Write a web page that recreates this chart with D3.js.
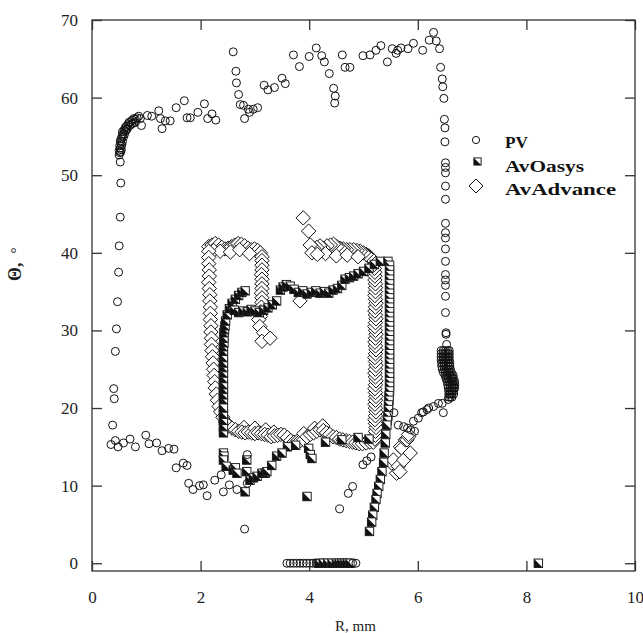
<!DOCTYPE html>
<html>
<head>
<meta charset="utf-8">
<script src="https://cdn.jsdelivr.net/npm/d3@7"></script>
<style>
  body { margin: 0; background: #fff; }
  svg text { font-family: "Liberation Serif", "Times New Roman", Times, serif; }
</style>
</head>
<body>
<div id="root"></div>
<script>
// R (mm), Theta (deg)
const pvPoints = [
  [0.52,51.7],[0.53,49.0],[0.52,44.6],[0.50,40.9],[0.49,37.5],[0.47,33.7],[0.45,30.2],[0.43,27.3],
  [0.40,22.5],[0.41,21.2],[0.38,17.8],[0.35,15.3],[0.43,15.8],[0.48,15.0],[0.58,15.5],[0.70,16.0],
  [0.80,15.0],[0.99,16.5],[1.05,15.4],[1.19,15.5],[1.29,14.5],[1.41,14.8],[1.51,14.7],[1.55,12.3],
  [1.68,12.9],[1.75,12.6],[1.78,10.3],[1.86,9.5],[1.98,10.0],[2.05,10.1],[2.12,8.7],[2.26,10.7],
  [2.38,11.4],[2.42,9.2],[2.53,10.1],[2.67,9.5],[2.86,14.0],[2.81,4.4],[2.86,10.3],
  [0.50,52.6],[0.51,52.9],[0.50,53.2],[0.52,53.5],[0.51,53.8],[0.53,54.1],[0.52,54.4],[0.54,54.7],
  [0.55,55.0],[0.57,55.3],[0.56,55.6],[0.59,55.8],[0.61,56.1],[0.63,56.3],[0.62,55.7],[0.66,56.5],
  [0.68,56.8],[0.65,56.0],[0.71,56.9],[0.74,57.1],[0.70,56.4],[0.77,57.3],[0.80,57.2],[0.83,57.4],
  [0.76,56.7],[0.86,57.6],[0.89,57.3],[0.58,54.9],[0.53,53.0],[0.55,53.9],[0.54,53.3],[0.56,54.3],
  [0.60,55.3],[0.64,55.9],[0.73,56.6],[0.80,56.8],
  [0.91,56.4],[1.02,57.7],[1.10,57.6],[1.23,58.3],[1.26,57.3],[1.29,56.0],[1.35,57.0],[1.44,57.0],
  [1.55,58.7],[1.70,59.6],[1.75,57.4],[1.81,57.4],[1.95,58.1],[2.07,59.2],[2.13,57.3],[2.21,57.9],
  [2.28,57.1],[2.60,65.9],[2.65,63.4],[2.66,61.9],[2.70,60.4],[2.73,59.1],[2.79,59.0],[2.81,57.3],
  [2.88,58.5],[2.90,58.1],[2.97,58.5],[3.05,58.7],[3.17,61.6],[3.24,61.0],[3.36,61.3],[3.50,62.5],
  [3.56,61.8],[3.71,65.5],[3.82,64.0],[4.00,65.3],[4.13,66.4],[4.23,65.4],[4.28,64.6],[4.37,63.1],
  [4.45,61.2],[4.48,60.2],[4.47,59.3],[4.61,65.5],[4.66,63.9],[4.75,63.9],[4.99,65.4],[5.12,65.5],
  [5.23,66.1],[5.32,66.7],[5.44,64.6],[5.53,66.3],[5.60,65.7],[5.63,66.1],[5.69,66.4],[5.82,66.3],
  [5.92,67.0],[6.09,66.1],[6.21,67.4],[6.29,68.4],[6.34,67.3],[6.40,66.3],
  [6.42,63.9],[6.45,62.4],[6.46,61.4],[6.48,59.9],[6.49,57.2],[6.50,56.1],[6.50,54.3],[6.51,51.6],
  [6.51,51.0],[6.51,50.3],[6.51,48.6],[6.51,46.9],[6.51,43.8],[6.51,42.6],[6.51,41.9],[6.51,40.5],
  [6.51,38.9],[6.51,37.2],[6.51,36.5],[6.51,35.8],[6.51,34.4],[6.51,32.3],[6.52,29.7],[6.52,29.5],
  [6.53,28.2],
  // dense blob near R = 6.5 mm
  [6.43,27.4],[6.47,27.4],[6.51,27.4],[6.55,27.4],[6.58,27.4],
  [6.43,27.0],[6.47,27.0],[6.51,27.0],[6.55,27.0],[6.58,27.0],
  [6.43,26.6],[6.47,26.6],[6.51,26.6],[6.55,26.6],[6.58,26.6],
  [6.43,26.2],[6.47,26.2],[6.51,26.2],[6.55,26.2],[6.58,26.2],
  [6.44,25.8],[6.48,25.8],[6.52,25.8],[6.56,25.8],[6.59,25.8],
  [6.44,25.4],[6.48,25.4],[6.52,25.4],[6.56,25.4],[6.59,25.4],
  [6.45,25.0],[6.49,25.0],[6.53,25.0],[6.57,25.0],[6.60,25.0],
  [6.47,24.6],[6.51,24.6],[6.55,24.6],[6.59,24.6],[6.62,24.6],
  [6.50,24.2],[6.54,24.2],[6.58,24.2],[6.62,24.2],[6.65,24.2],
  [6.52,23.8],[6.56,23.8],[6.60,23.8],[6.63,23.8],[6.66,23.8],
  [6.54,23.4],[6.58,23.4],[6.62,23.4],[6.65,23.4],[6.68,23.4],
  [6.55,23.0],[6.59,23.0],[6.63,23.0],[6.66,23.0],[6.68,23.0],
  [6.56,22.6],[6.60,22.6],[6.63,22.6],[6.66,22.6],[6.68,22.6],
  [6.57,22.2],[6.60,22.2],[6.63,22.2],[6.66,22.2],
  [6.57,21.8],[6.60,21.8],[6.63,21.8],[6.66,21.8],
  [6.57,21.4],[6.60,21.4],[6.63,21.4],
  [6.47,19.4],[6.45,20.6],[6.38,20.6],[6.29,20.2],[6.20,20.0],[6.10,19.5],[6.07,19.4],[6.01,18.7],
  [5.92,18.3],[6.17,19.8],[6.56,21.1],[5.64,17.8],[5.74,17.6],[5.81,17.4],[5.87,17.2],[5.94,17.0],
  [5.56,19.4],[4.99,12.7],[5.06,13.2],[5.14,13.7],[4.80,9.9],[4.72,9.0],[4.56,7.0],
  [3.59,0],[3.65,0],[3.71,0],[3.77,0],[3.83,0],[3.89,0],[3.95,0],[4.01,0],[4.07,0],[4.13,0],
  [4.80,0],[4.86,0]
];

const oasysPoints = [
  [2.42,16.8],[2.42,17.6],[2.42,18.4],[2.42,19.2],[2.42,20.0],[2.42,21.1],[2.42,21.7],[2.42,22.4],
  [2.42,23.0],[2.42,23.8],[2.42,24.5],[2.42,25.2],[2.42,25.8],[2.42,26.5],[2.42,27.3],[2.42,27.9],
  [2.43,28.4],[2.43,29.0],[2.43,29.7],[2.44,30.1],[2.45,30.6],[2.46,31.2],
  [2.49,32.0],[2.53,32.8],[2.58,33.5],[2.64,34.0],[2.70,34.5],[2.76,34.9],[2.82,35.1],
  [2.62,32.6],[2.70,32.3],[2.78,32.5],[2.86,32.4],[2.93,32.7],[3.00,32.5],[3.08,32.3],[3.16,32.6],
  [3.24,32.9],[3.32,33.3],[3.40,33.8],
  [3.47,35.2],[3.52,35.6],[3.58,35.9],[3.65,35.7],[3.72,35.3],[3.80,34.9],[3.88,35.1],[3.96,34.7],
  [4.04,34.9],[4.12,35.1],[4.20,34.8],[4.28,35.0],[4.36,34.8],[4.44,35.2],[4.52,35.4],[4.60,35.8],
  [4.66,36.6],[4.74,36.8],[4.82,37.0],[4.90,37.3],[5.00,37.6],[5.10,38.0],[5.20,38.5],[5.31,38.9],
  [5.45,38.9],
  [5.48,38.4],[5.48,37.8],[5.48,37.2],[5.48,36.6],[5.48,36.0],[5.48,35.4],[5.48,34.8],[5.48,34.2],
  [5.48,33.6],[5.48,33.0],[5.48,32.4],[5.48,31.8],[5.48,31.2],[5.48,30.6],[5.48,30.0],[5.48,29.4],
  [5.48,28.8],[5.48,28.2],[5.48,27.6],[5.48,27.0],[5.48,26.4],[5.48,25.8],[5.48,25.2],[5.48,24.6],
  [5.48,24.0],[5.48,23.4],[5.48,22.8],[5.48,22.2],[5.47,21.6],[5.47,21.0],[5.46,20.4],[5.46,19.8],
  [5.45,19.0],[5.44,18.4],[5.43,17.8],
  [5.41,16.6],[5.40,15.5],[5.38,14.2],[5.37,13.0],[5.34,11.8],[5.31,10.8],[5.28,9.9],[5.25,9.0],
  [5.23,8.2],[5.20,7.2],[5.17,6.2],[5.15,5.3],[5.11,4.1],
  [3.60,15.0],[3.75,15.2],[4.30,15.6],[4.60,15.9],[4.90,16.2],[5.10,16.0],
  [2.42,14.2],[2.43,13.8],[2.42,13.3],[2.47,12.5],[2.60,12.0],[2.64,12.3],[2.67,11.6],[2.85,13.3],
  [2.85,11.8],[2.82,9.2],[2.91,10.7],[2.97,11.0],[3.04,11.2],[3.13,11.6],[3.19,11.6],[3.22,11.8],
  [3.31,12.6],[3.40,13.8],[3.50,14.2],[3.99,14.8],[4.02,14.0],[4.05,13.5],[3.96,8.6],
  [4.18,0],[4.26,0],[4.34,0],[4.42,0],[4.50,0],[4.55,0],[4.60,0],[4.65,0],[4.70,0],[4.75,0],
  [8.22,0]
];

const advancePoints = [
  [2.15,40.8],[2.21,41.0],[2.27,41.2],[2.33,41.0],[2.39,40.7],[2.45,40.5],[2.51,40.6],[2.57,40.8],
  [2.63,41.0],[2.69,41.2],[2.75,41.1],[2.81,40.9],[2.87,40.6],[2.93,40.4],[2.99,40.5],[3.05,40.3],
  [3.10,40.0],[3.13,39.5],[2.24,40.3],[2.36,40.2],[2.55,40.1],[2.72,40.4],[2.90,39.9],
  [2.15,40.2],[2.15,39.4],[2.15,38.6],[2.16,37.8],[2.16,37.0],[2.15,36.2],[2.16,35.4],[2.17,34.6],
  [2.17,33.8],[2.18,33.0],[2.18,32.2],[2.18,31.4],[2.19,30.6],[2.19,29.8],[2.20,29.0],[2.20,28.2],
  [2.21,27.4],[2.22,26.6],[2.23,25.8],[2.24,25.0],[2.25,24.2],[2.26,23.4],[2.27,22.6],[2.29,21.8],
  [2.31,21.0],[2.34,20.2],[2.37,19.5],[2.41,18.8],[2.46,18.2],[2.52,17.7],[2.58,17.4],[2.64,17.2],
  [3.13,39.0],[3.13,38.4],[3.13,37.8],[3.12,37.2],[3.13,36.6],[3.13,36.0],[3.13,35.4],[3.12,34.8],
  [3.13,34.2],[3.13,33.6],[3.12,33.0],[3.11,32.4],[3.10,31.8],[3.07,31.4],[3.09,30.5],[3.16,29.7],
  [3.13,28.6],[3.28,29.0],[3.83,33.8],
  [2.70,17.0],[2.80,17.5],[2.76,16.9],[2.82,16.8],[2.88,16.9],[2.94,16.8],[3.00,17.4],[3.00,16.7],
  [3.06,16.8],[3.12,16.7],[3.20,17.2],[3.18,16.6],[3.24,16.5],[3.30,16.3],[3.35,16.9],[3.36,16.4],
  [3.42,16.5],[3.48,16.6],[3.54,16.5],[3.60,16.2],[3.66,15.8],[3.72,15.6],[3.78,15.7],[3.84,15.8],
  [3.90,15.9],[3.90,16.7],[3.96,16.3],[4.02,16.6],[4.08,16.8],[4.10,17.4],[4.14,17.0],[4.20,17.2],
  [4.25,17.7],[4.26,17.1],[4.32,16.8],[4.38,16.6],[4.44,16.3],[4.50,16.2],[4.56,16.0],[4.62,15.9],
  [4.68,15.8],[4.74,15.7],[4.80,15.6],[4.86,15.5],[4.92,15.4],[4.98,15.4],[5.05,15.5],[5.12,15.6],
  [5.18,15.6],
  [5.21,16.0],[5.22,16.5],[5.22,17.0],[5.23,17.5],[5.22,18.0],[5.21,18.5],[5.22,19.0],[5.23,19.5],
  [5.22,20.0],[5.21,20.5],[5.22,21.0],[5.23,21.5],[5.22,22.0],[5.21,22.5],[5.22,23.0],[5.23,23.5],
  [5.22,24.0],[5.21,24.5],[5.22,25.0],[5.23,25.5],[5.22,26.0],[5.21,26.5],[5.22,27.0],[5.23,27.5],
  [5.22,28.0],[5.21,28.5],[5.22,29.0],[5.23,29.5],[5.22,30.0],[5.21,30.5],[5.22,31.0],[5.23,31.5],
  [5.22,32.0],[5.21,32.5],[5.22,33.0],[5.23,33.5],[5.22,34.0],[5.21,34.5],[5.22,35.0],[5.22,35.5],
  [5.22,36.0],[5.21,36.5],[5.21,37.0],[5.21,37.5],[5.20,38.0],[5.20,38.5],
  [5.18,38.9],[5.14,39.3],[5.10,39.6],[5.05,39.8],[5.00,40.0],[4.94,40.2],[4.88,40.3],[4.82,40.4],
  [4.75,40.4],[4.69,40.4],[4.63,40.5],[4.57,40.6],[4.51,40.8],[4.45,41.1],[4.39,41.0],[4.33,40.9],
  [4.26,40.6],[4.20,40.9],[4.14,40.7],[4.08,40.6],[4.02,41.0],[3.99,42.8],[3.89,44.5],
  [4.30,39.9],[4.50,39.6],[4.70,39.7],[4.90,39.5],[4.05,40.0],[4.15,39.8],
  [5.52,12.9],[5.55,13.3],[5.61,11.6],[5.64,12.5],[5.67,11.8],[5.68,15.0],[5.71,14.8],[5.74,13.3],
  [5.77,15.9],[5.80,15.9],[5.83,16.3],[5.86,14.2],[5.83,16.6]
];

const xTicks = [0, 2, 4, 6, 8, 10];
const yTicks = [0, 10, 20, 30, 40, 50, 60, 70];
const legendLabels = ["PV", "AvOasys", "AvAdvance"];

const W = 643, H = 633,
    plot = {left: 92, right: 635, top: 20, bottom: 571};

const svg = d3.select("#root").append("svg")
    .attr("width", W)
    .attr("height", H);

const x = d3.scaleLinear().domain([0, 10]).range([plot.left, plot.right]);
const y = d3.scaleLinear().domain([-1, 70]).range([plot.bottom, plot.top]);

// marker shapes
const diamondPath = (s) => `M0,${-s}L${s},0L0,${s}L${-s},0Z`;
const sq = 4.2, dm = 7.2, cr = 4;

function drawSquare(sel, s) {
    sel.append("rect")
        .attr("x", -s).attr("y", -s)
        .attr("width", 2 * s).attr("height", 2 * s)
        .attr("fill", "#fff")
        .attr("stroke", "#222")
        .attr("stroke-width", 1);
    // black lower-left half
    sel.append("path")
        .attr("d", `M${-s},${-s}L${-s},${s}L${s},${s}Z`)
        .attr("fill", "#111");
}

// AvAdvance diamonds
svg.append("g").selectAll("path")
    .data(advancePoints)
    .enter().append("path")
    .attr("transform", d => `translate(${x(d[0])},${y(d[1])})`)
    .attr("d", diamondPath(dm))
    .attr("fill", "#fff")
    .attr("stroke", "#111")
    .attr("stroke-width", 1);

// AvOasys half filled squares
svg.append("g").selectAll("g")
    .data(oasysPoints)
    .enter().append("g")
    .attr("transform", d => `translate(${x(d[0])},${y(d[1])})`)
    .each(function() { drawSquare(d3.select(this), sq); });

// PV circles
svg.append("g").selectAll("circle")
    .data(pvPoints)
    .enter().append("circle")
    .attr("cx", d => x(d[0]))
    .attr("cy", d => y(d[1]))
    .attr("r", cr)
    .attr("fill", "none")
    .attr("stroke", "#111")
    .attr("stroke-width", 1);

// frame and inward ticks
svg.append("rect")
    .attr("x", plot.left).attr("y", plot.top)
    .attr("width", plot.right - plot.left)
    .attr("height", plot.bottom - plot.top)
    .attr("fill", "none")
    .attr("stroke", "#333")
    .attr("stroke-width", 1.3);

const xAxis = svg.append("g")
    .attr("transform", `translate(0,${plot.bottom})`)
    .call(d3.axisBottom(x).tickValues(xTicks).tickSize(-10).tickSizeOuter(0).tickPadding(20));
const xTop = svg.append("g")
    .attr("transform", `translate(0,${plot.top})`)
    .call(d3.axisTop(x).tickValues(xTicks).tickSize(-10).tickSizeOuter(0).tickFormat(""));
const yAxis = svg.append("g")
    .attr("transform", `translate(${plot.left},0)`)
    .call(d3.axisLeft(y).tickValues(yTicks).tickSize(-10).tickSizeOuter(0).tickPadding(14));
const yRight = svg.append("g")
    .attr("transform", `translate(${plot.right},0)`)
    .call(d3.axisRight(y).tickValues(yTicks).tickSize(-10).tickSizeOuter(0).tickFormat(""));

[xAxis, xTop, yAxis, yRight].forEach(a => {
    a.attr("font-family", null);
    a.select(".domain").remove();
    a.selectAll(".tick line").attr("stroke", "#333").attr("stroke-width", 1.3);
    a.selectAll("text")
        .attr("font-size", 17)
        .attr("fill", "#222");
});

// axis titles
svg.append("text")
    .attr("x", 335).attr("y", 631)
    .attr("font-size", 15)
    .attr("fill", "#222")
    .text("R, mm");

const yTitle = svg.append("text")
    .attr("transform", "translate(21,281) rotate(-90)")
    .attr("font-size", 18)
    .attr("font-weight", "bold")
    .attr("fill", "#222")
    .text("Θ,");
yTitle.append("tspan")
    .attr("dx", 9)
    .attr("font-size", 15)
    .attr("font-weight", "normal")
    .text("°");

// legend
const legend = svg.append("g");
const legY = [140, 161.5, 186];
const legBase = [148.3, 171.7, 195];
const legWidths = [23, 79, 111];

legend.append("circle")
    .attr("cx", 476).attr("cy", legY[0]).attr("r", 3.6)
    .attr("fill", "none").attr("stroke", "#111").attr("stroke-width", 1);
drawSquare(legend.append("g").attr("transform", `translate(477.5,${legY[1]})`), 3.6);
legend.append("path")
    .attr("transform", `translate(476,${legY[2]})`)
    .attr("d", diamondPath(7))
    .attr("fill", "#fff").attr("stroke", "#111").attr("stroke-width", 1);

legend.selectAll(".leg")
    .data(legendLabels)
    .enter().append("text")
    .attr("class", "leg")
    .attr("x", 505)
    .attr("y", (d, i) => legBase[i])
    .attr("font-size", 17)
    .attr("font-weight", "bold")
    .attr("fill", "#111")
    .attr("textLength", (d, i) => legWidths[i])
    .attr("lengthAdjust", "spacingAndGlyphs")
    .text(d => d);
</script>
</body>
</html>
